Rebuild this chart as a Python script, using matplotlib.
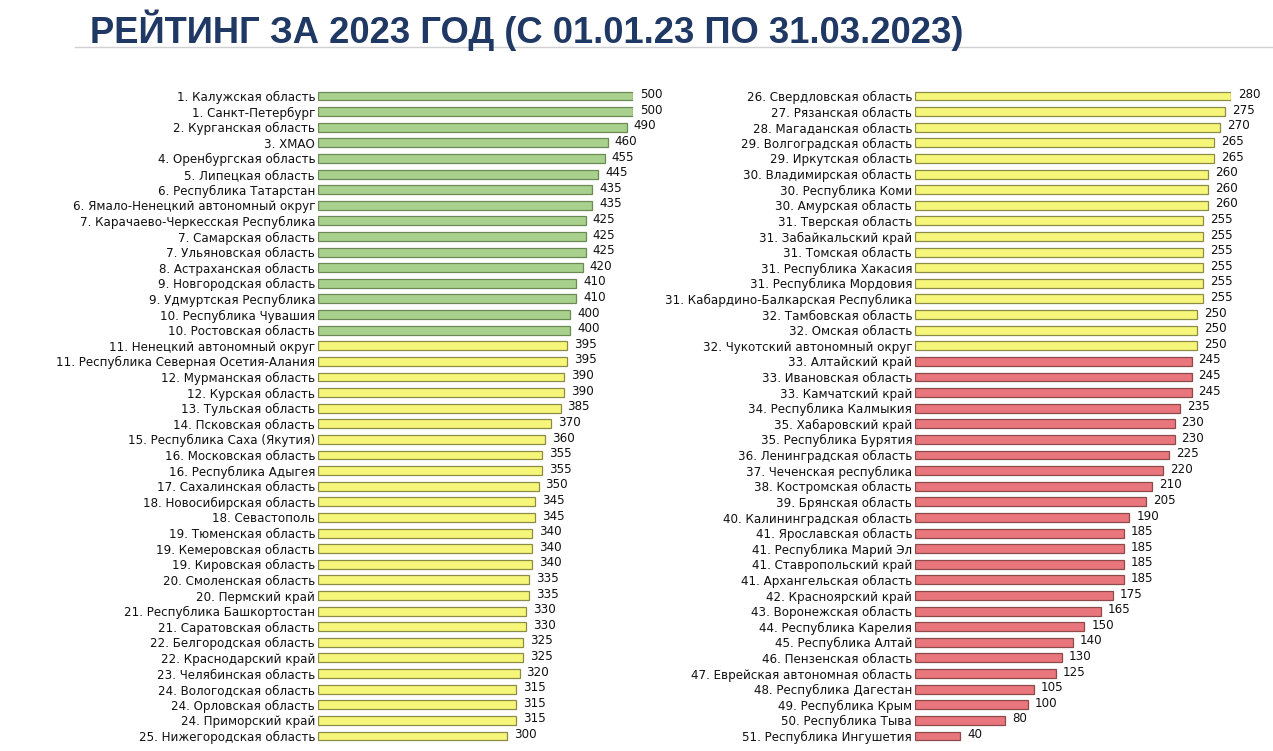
import matplotlib
matplotlib.use("Agg")
import matplotlib.pyplot as plt
from matplotlib.lines import Line2D

# data
left_names = [
    "1. Калужская область", "1. Санкт-Петербург", "2. Курганская область", "3. ХМАО",
    "4. Оренбургская область", "5. Липецкая область", "6. Республика Татарстан",
    "6. Ямало-Ненецкий автономный округ", "7. Карачаево-Черкесская Республика",
    "7. Самарская область", "7. Ульяновская область", "8. Астраханская область",
    "9. Новгородская область", "9. Удмуртская Республика", "10. Республика Чувашия",
    "10. Ростовская область", "11. Ненецкий автономный округ",
    "11. Республика Северная Осетия-Алания", "12. Мурманская область",
    "12. Курская область", "13. Тульская область", "14. Псковская область",
    "15. Республика Саха (Якутия)", "16. Московская область", "16. Республика Адыгея",
    "17. Сахалинская область", "18. Новосибирская область", "18. Севастополь",
    "19. Тюменская область", "19. Кемеровская область", "19. Кировская область",
    "20. Смоленская область", "20. Пермский край", "21. Республика Башкортостан",
    "21. Саратовская область", "22. Белгородская область", "22. Краснодарский край",
    "23. Челябинская область", "24. Вологодская область", "24. Орловская область",
    "24. Приморский край", "25. Нижегородская область",
]
left_vals = [500, 500, 490, 460, 455, 445, 435, 435, 425, 425, 425, 420, 410, 410,
             400, 400, 395, 395, 390, 390, 385, 370, 360, 355, 355, 350, 345, 345,
             340, 340, 340, 335, 335, 330, 330, 325, 325, 320, 315, 315, 315, 300]
left_groups = ["green"] * 16 + ["yellow"] * 26

right_names = [
    "26. Свердловская область", "27. Рязанская область", "28. Магаданская область",
    "29. Волгоградская область", "29. Иркутская область", "30. Владимирская область",
    "30. Республика Коми", "30. Амурская область", "31. Тверская область",
    "31. Забайкальский край", "31. Томская область", "31. Республика Хакасия",
    "31. Республика Мордовия", "31. Кабардино-Балкарская Республика",
    "32. Тамбовская область", "32. Омская область", "32. Чукотский автономный округ",
    "33. Алтайский край", "33. Ивановская область", "33. Камчатский край",
    "34. Республика Калмыкия", "35. Хабаровский край", "35. Республика Бурятия",
    "36. Ленинградская область", "37. Чеченская республика", "38. Костромская область",
    "39. Брянская область", "40. Калининградская область", "41. Ярославская область",
    "41. Республика Марий Эл", "41. Ставропольский край", "41. Архангельская область",
    "42. Красноярский край", "43. Воронежская область", "44. Республика Карелия",
    "45. Республика Алтай", "46. Пензенская область", "47. Еврейская автономная область",
    "48. Республика Дагестан", "49. Республика Крым", "50. Республика Тыва",
    "51. Республика Ингушетия",
]
right_vals = [280, 275, 270, 265, 265, 260, 260, 260, 255, 255, 255, 255, 255, 255,
              250, 250, 250, 245, 245, 245, 235, 230, 230, 225, 220, 210, 205, 190,
              185, 185, 185, 185, 175, 165, 150, 140, 130, 125, 105, 100, 80, 40]
right_groups = ["yellow"] * 17 + ["red"] * 25

fills = {"green": "#a9d18e", "yellow": "#f6f67a", "red": "#e8767c"}
edges = {"green": "#6b8a55", "yellow": "#8c8c45", "red": "#8c4a4a"}

W, H = 1273, 751
fig = plt.figure(figsize=(W / 100, H / 100), dpi=100)

# title + rule
fig.text(90 / W, 1 - 30 / H, "РЕЙТИНГ ЗА 2023 ГОД (С 01.01.23 ПО 31.03.2023)",
         family="Liberation Sans", weight="bold", fontsize=26.2, color="#1f3864",
         va="center", ha="left")
fig.add_artist(Line2D([75 / W, 1], [1 - 47 / H, 1 - 47 / H], color="#d0d0d0", lw=1))


def panel(x0, x1, names, vals, groups, xmax):
    top, bottom = 88.2, 743.8
    ax = fig.add_axes([x0 / W, 1 - bottom / H, (x1 - x0) / W, (bottom - top) / H])
    n = len(vals)
    y = list(range(n))
    ax.barh(y, vals, height=0.57, color=[fills[g] for g in groups],
            edgecolor=[edges[g] for g in groups], linewidth=0.9)
    ax.set_xlim(0, xmax)
    ax.set_ylim(n - 0.5, -0.5)
    ax.set_yticks(y)
    ax.set_yticklabels(names, fontsize=8.6, color="#111111")
    ax.tick_params(axis="y", length=0, pad=2)
    ax.set_xticks([])
    for s in ax.spines.values():
        s.set_visible(False)
    for yi, v in zip(y, vals):
        ax.annotate(str(v), (v, yi), xytext=(5, 1), textcoords="offset points",
                    va="center", ha="left", fontsize=8.6, color="#111111")
    return ax


panel(318, 633, left_names, left_vals, left_groups, 500)
panel(915, 1231, right_names, right_vals, right_groups, 280)

fig.savefig("out.png", dpi=100)
